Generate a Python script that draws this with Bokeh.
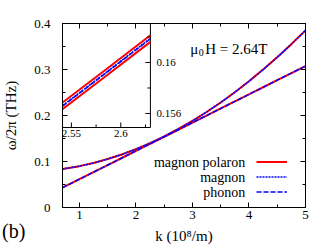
import math
from bokeh.plotting import figure
from bokeh.models import Range1d, LinearAxis, Label, Legend, LegendItem, FixedTicker, CustomJSTickFormatter, Div
from bokeh.core.properties import value
from bokeh.embed import file_html
from bokeh.resources import INLINE

# ---- main panel data (k in 10^8/m, frequency in THz) ----
k = [0.7, 1.0, 1.25, 1.5, 1.75, 2.0, 2.25, 2.5, 2.75, 3.0, 3.25, 3.5, 3.75, 4.0, 4.25, 4.5, 4.75, 5.0]
magnon = [0.0836, 0.0899, 0.0968, 0.1053, 0.1153, 0.1268, 0.1399, 0.1545, 0.1706, 0.1883,
          0.2075, 0.2283, 0.2506, 0.2744, 0.2998, 0.3267, 0.3551, 0.3851]
phonon = [0.0431, 0.0615, 0.0769, 0.0923, 0.1076, 0.1230, 0.1384, 0.1538, 0.1691, 0.1845,
          0.1999, 0.2153, 0.2306, 0.2460, 0.2614, 0.2768, 0.2921, 0.3075]
polaron_upper = [0.0836, 0.0899, 0.0968, 0.1053, 0.1153, 0.1269, 0.1401, 0.1548, 0.1709, 0.1885,
                 0.2076, 0.2283, 0.2506, 0.2744, 0.2998, 0.3267, 0.3551, 0.3851]
polaron_lower = [0.0431, 0.0615, 0.0769, 0.0923, 0.1076, 0.1229, 0.1382, 0.1535, 0.1688, 0.1843,
                 0.1998, 0.2153, 0.2306, 0.2460, 0.2614, 0.2768, 0.2921, 0.3075]

# ---- inset data (zoom near the crossing) ----
k_inset = [2.541, 2.585, 2.63]
magnon_inset = [0.15662, 0.15921, 0.16190]
phonon_inset = [0.15658, 0.15918, 0.16186]
polaron_upper_inset = [0.15686, 0.15945, 0.16214]
polaron_lower_inset = [0.15634, 0.15894, 0.16162]
inset_x_span = [2.541, 2.63]
inset_y_span = [0.1549, 0.16306]

x_ticks = [1, 2, 3, 4, 5]
x_minor = [1.5, 2.5, 3.5, 4.5]
y_ticks = [0, 0.1, 0.2, 0.3, 0.4]
y_minor = [0.05, 0.15, 0.25, 0.35]
y_tick_labels = {0: "0", 0.1: "0.1", 0.2: "0.2", 0.3: "0.3", 0.4: "0.4"}
inset_x_ticks = [2.55, 2.6]
inset_x_minor = [2.575, 2.625]
inset_x_tick_labels = ["2.55", "2.6"]
inset_y_ticks = [0.156, 0.16]
inset_y_minor = [0.158, 0.162]
inset_y_tick_labels = ["0.156", "0.16"]

labels = ["magnon polaron", "magnon", "phonon"]
panel_tag = "(b)"

FONT = "'Liberation Serif', 'Times New Roman', 'DejaVu Serif', serif"
RED = "#ff0000"
BLUE = "#0000ff"

# geometry of the page (pixels)
W, H = 326, 251
BL, BR, BT, BB = 59, W - 305, 23, H - 207
FW, FH = W - BL - BR, H - BT - BB
INSET_W, INSET_H = 89, 104  # inset frame size in pixels, anchored at top-left of main frame


def style_axis(ax, size="13px", show=True):
    ax.major_tick_in = 5
    ax.major_tick_out = 0
    ax.minor_tick_in = 3
    ax.minor_tick_out = 0
    ax.axis_line_color = "black"
    ax.major_tick_line_color = "black"
    ax.minor_tick_line_color = "black"
    ax.major_label_text_font = FONT
    ax.major_label_text_color = "black"
    ax.axis_label_text_font = FONT
    ax.axis_label_text_font_style = "normal"
    ax.axis_label_text_color = "black"
    ax.axis_label_text_font_size = "15px"
    if show:
        ax.major_label_text_font_size = size
    else:
        ax.formatter = CustomJSTickFormatter(code="return ''")
        ax.major_label_text_font_size = "0px"
        ax.major_label_standoff = 0


xr = Range1d(0.7, 5.0)
yr = Range1d(0, 0.4)
p = figure(width=W, height=H, x_range=xr, y_range=yr,
           toolbar_location=None, output_backend="svg",
           min_border_left=BL, min_border_right=BR, min_border_top=BT, min_border_bottom=BB)
p.grid.visible = False
p.outline_line_color = "black"
p.background_fill_color = "white"
p.border_fill_color = "white"

# extra ranges so that the inset data fill a box at the top-left of the frame
ix0, ix1 = inset_x_span
iy0, iy1 = inset_y_span
p.extra_x_ranges = {"ix": Range1d(ix0, ix0 + (ix1 - ix0) * FW / INSET_W)}
p.extra_y_ranges = {"iy": Range1d(iy1 - (iy1 - iy0) * FH / INSET_H, iy1)}

xt = FixedTicker(ticks=x_ticks, minor_ticks=x_minor)
yt = FixedTicker(ticks=y_ticks, minor_ticks=y_minor)
p.xaxis.ticker = xt
p.yaxis.ticker = yt
p.yaxis.major_label_overrides = y_tick_labels
p.xaxis.axis_label = "k (10\u2078/m)"
p.yaxis.axis_label = "\u03c9/2\u03c0 (THz)"
style_axis(p.xaxis[0])
style_axis(p.yaxis[0])
p.xaxis.major_label_standoff = 3
p.xaxis.axis_label_standoff = 6
p.yaxis.major_label_standoff = 12
p.yaxis.axis_label_standoff = 12

ax_r = LinearAxis(ticker=yt)
style_axis(ax_r, show=False)
p.add_layout(ax_r, "right")
ax_t = LinearAxis(ticker=xt)
style_axis(ax_t, show=False)
p.add_layout(ax_t, "above")

r_pol = p.line(k, polaron_upper, line_color=RED, line_width=2)
p.line(k, polaron_lower, line_color=RED, line_width=2)
r_mag = p.line(k, magnon, line_color=BLUE, line_width=1.5, line_dash="2 1")
r_pho = p.line(k, phonon, line_color=BLUE, line_width=1.5, line_dash="5 2")

legend = Legend(items=[LegendItem(label=" ", renderers=[r_pol]),
                       LegendItem(label=" ", renderers=[r_mag]),
                       LegendItem(label=" ", renderers=[r_pho])],
                location=(194, 8), glyph_width=31, glyph_height=15, label_height=15,
                label_width=0, label_standoff=0, spacing=0, padding=0, margin=0,
                label_text_font_size="1px", border_line_alpha=0, background_fill_alpha=0)
p.add_layout(legend, "center")

for lab, yy in zip(labels, [0.0985, 0.0659, 0.0333]):
    p.add_layout(Label(x=3.934, y=yy, text=lab, text_align="right", text_baseline="middle",
                       text_font=FONT, text_font_size="14px", text_color="black"))

p.add_layout(Label(x=2.960, y=0.3446, text="\u03bc", text_font=FONT, text_font_size="15px",
                   text_baseline="alphabetic", text_color="black"))
p.add_layout(Label(x=3.112, y=0.3359, text="0", text_font=FONT, text_font_size="10px",
                   text_baseline="alphabetic", text_color="black"))
p.add_layout(Label(x=3.226, y=0.3446, text="H = 2.64T", text_font=FONT, text_font_size="15px",
                   text_baseline="alphabetic", text_color="black"))

# ---- inset (drawn on the extra ranges) ----
R = dict(x_range_name="ix", y_range_name="iy")
p.quad(left=[ix0], right=[ix1], bottom=[iy0], top=[iy1], fill_color="white",
       line_color="black", line_width=1, **R)
p.line(k_inset, polaron_upper_inset, line_color=RED, line_width=2, **R)
p.line(k_inset, polaron_lower_inset, line_color=RED, line_width=2, **R)
p.line(k_inset, magnon_inset, line_color=BLUE, line_width=1.5, line_dash="2 1", **R)
p.line(k_inset, phonon_inset, line_color=BLUE, line_width=1.5, line_dash="5 2", **R)

# inset ticks (inward) on the bottom and right edges
p.ray(x=inset_x_ticks, y=[iy0] * len(inset_x_ticks), length=5, length_units="screen",
      angle=math.pi / 2, line_color="black", line_width=1, **R)
p.ray(x=inset_x_minor, y=[iy0] * len(inset_x_minor), length=3, length_units="screen",
      angle=math.pi / 2, line_color="black", line_width=1, **R)
p.ray(x=[ix1] * len(inset_y_ticks), y=inset_y_ticks, length=5, length_units="screen",
      angle=math.pi, line_color="black", line_width=1, **R)
p.ray(x=[ix1] * len(inset_y_minor), y=inset_y_minor, length=3, length_units="screen",
      angle=math.pi, line_color="black", line_width=1, **R)
p.text(x=inset_x_ticks, y=[iy0] * len(inset_x_ticks), text=inset_x_tick_labels,
       y_offset=2, text_align="center", text_baseline="top", text_font=value(FONT),
       text_font_size="11px", text_color="black", **R)
p.text(x=[ix1] * len(inset_y_ticks), y=inset_y_ticks, text=inset_y_tick_labels,
       x_offset=6, text_align="left", text_baseline="middle", text_font=value(FONT),
       text_font_size="11px", text_color="black", **R)

# panel tag "(b)" at the bottom-left corner, outside the plot frame
tag = Div(text=("<span style=\"font-family:'Liberation Serif','Times New Roman',serif;"
                "font-size:20px;line-height:20px;color:black;white-space:nowrap\">"
                + panel_tag + "</span>"),
          margin=0, styles={"position": "absolute", "left": "2px", "top": "221px"})

open("out.html", "w").write(file_html([p, tag], INLINE))
